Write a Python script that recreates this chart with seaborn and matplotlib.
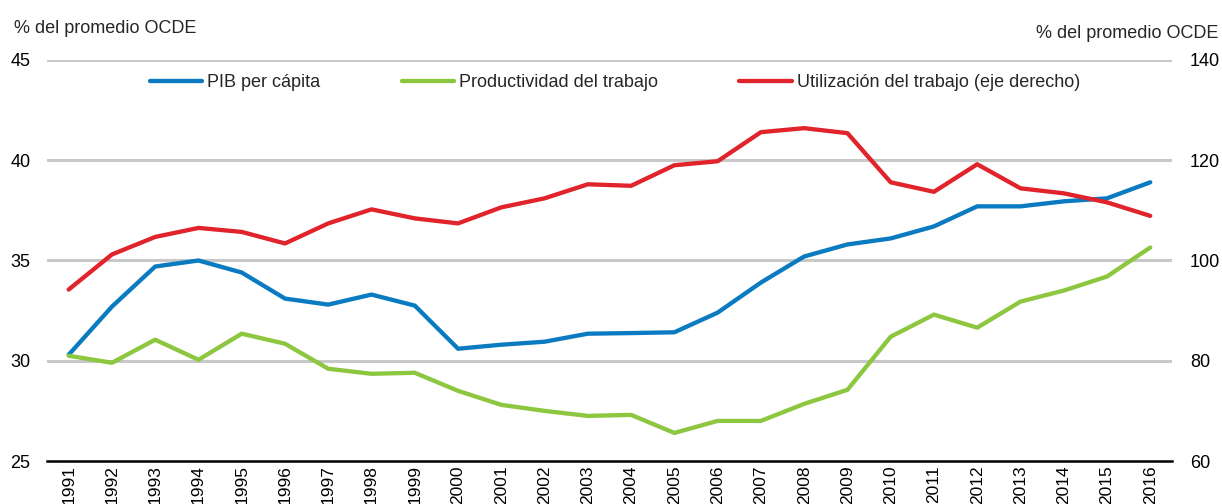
import matplotlib
matplotlib.use("Agg")
import matplotlib.pyplot as plt
import numpy as np
import pandas as pd
import seaborn as sns

# Series (percentage of the OECD average)
years = list(range(1991, 2017))
pib_per_capita = [30.3, 32.7, 34.7, 35.0, 34.4, 33.1, 32.8, 33.3, 32.75, 30.6,
                  30.8, 30.95, 31.35, 31.38, 31.42, 32.4, 33.9, 35.2, 35.8, 36.1,
                  36.7, 37.7, 37.7, 37.95, 38.1, 38.9]
productividad = [30.25, 29.9, 31.05, 30.05, 31.35, 30.85, 29.6, 29.35, 29.4, 28.5,
                 27.8, 27.5, 27.25, 27.3, 26.4, 27.0, 27.0, 27.85, 28.55, 31.2,
                 32.3, 31.65, 32.95, 33.5, 34.2, 35.65]
utilizacion = [94.2, 101.2, 104.7, 106.5, 105.7, 103.4, 107.4, 110.2, 108.4, 107.4,
               110.6, 112.4, 115.2, 114.9, 119.0, 119.8, 125.6, 126.4, 125.4, 115.6,
               113.7, 119.2, 114.4, 113.4, 111.6, 108.9]

labels = ["PIB per cápita", "Productividad del trabajo",
          "Utilización del trabajo (eje derecho)"]
axis_title = "% del promedio OCDE"

df = pd.DataFrame({"year": years, "pib": pib_per_capita,
                   "prod": productividad, "util": utilizacion})

sns.set_theme(style="white")
plt.rcParams["font.family"] = ["Liberation Sans", "DejaVu Sans"]
FS = 13
FS_YEAR = 12.5

blue, green, red = "#0A7BC1", "#8DC63F", "#E1232B"
grid_col = "#C8C8C8"

fig = plt.figure(figsize=(12.22, 5.04), dpi=100)
ax = fig.add_axes([0.0385, 0.0853, 0.9205, 0.7957])
ax2 = ax.twinx()

sns.lineplot(data=df, x="year", y="pib", ax=ax, color=blue, lw=3.1, label=labels[0], legend=False)
sns.lineplot(data=df, x="year", y="prod", ax=ax, color=green, lw=3.1, label=labels[1], legend=False)
sns.lineplot(data=df, x="year", y="util", ax=ax2, color=red, lw=3.1, label=labels[2], legend=False)

ax.set_ylim(25, 45)
ax2.set_ylim(60, 140)
ax.set_yticks([25, 30, 35, 40, 45])
ax2.set_yticks([60, 80, 100, 120, 140])
ax.set_xlim(1990.5, 2016.5)

# horizontal gridlines
for v in [30, 35, 40, 45]:
    ax.axhline(v, color=grid_col, lw=2.2, zorder=0)

ax.set_xticks(years)
ax.set_xticklabels([str(y) for y in years], rotation=90, fontsize=FS_YEAR)
ax.set_xticks(np.arange(1990.5, 2017.0, 1.0), minor=True)
ax.tick_params(axis="x", which="major", length=0, pad=3)
ax.tick_params(axis="x", which="minor", length=6, width=1.8, color="black", direction="in")
ax.tick_params(axis="y", length=0, labelsize=FS, pad=12)
ax2.tick_params(axis="y", length=0, labelsize=FS, pad=13)

for a in (ax, ax2):
    for s in ("left", "right", "top"):
        a.spines[s].set_visible(False)
    a.set_xlabel("")
    a.set_ylabel("")
ax.spines["bottom"].set_color("black")
ax.spines["bottom"].set_linewidth(1.8)
ax2.spines["bottom"].set_visible(False)

for lbl in ax.get_xticklabels() + ax.get_yticklabels() + ax2.get_yticklabels():
    lbl.set_color("black")

fig.text(0.0115, 0.9345, axis_title, ha="left", va="baseline", fontsize=FS)
fig.text(0.9967, 0.9246, axis_title, ha="right", va="baseline", fontsize=FS)

handles = ax.get_lines()[:2] + ax2.get_lines()[:1]
leg = ax2.legend(handles, labels, loc="upper center", bbox_to_anchor=(0.505, 1.005),
                 ncol=3, frameon=False, fontsize=FS, handlelength=2.9,
                 handletextpad=0.28, columnspacing=4.5)

fig.savefig("out.png", dpi=100)
